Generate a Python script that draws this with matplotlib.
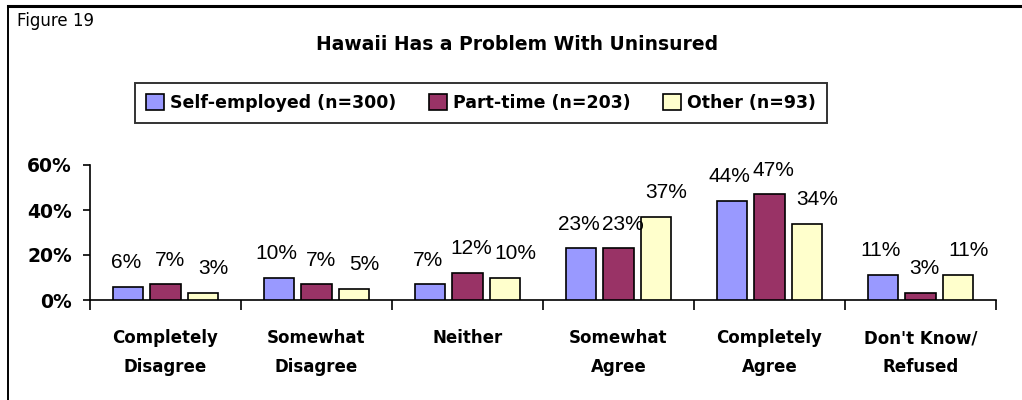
import matplotlib
matplotlib.use("Agg")
import matplotlib.pyplot as plt
from matplotlib.patches import Patch
from matplotlib.lines import Line2D
import numpy as np

categories = ["Completely\nDisagree", "Somewhat\nDisagree", "Neither",
              "Somewhat\nAgree", "Completely\nAgree", "Don't Know/\nRefused"]
series_names = ["Self-employed (n=300)", "Part-time (n=203)", "Other (n=93)"]
self_employed = [6, 10, 7, 23, 44, 11]
part_time = [7, 7, 12, 23, 47, 3]
other = [3, 5, 10, 37, 34, 11]
colors = ["#9999FF", "#993366", "#FFFFCC"]
yticks = [0, 20, 40, 60]
ytick_labels = ["0%", "20%", "40%", "60%"]
title = "Hawaii Has a Problem With Uninsured"
fig_label = "Figure 19"

plt.rcParams['font.family'] = ['DejaVu Sans']

fig = plt.figure(figsize=(10.22, 4.0), dpi=100)
ax = fig.add_axes([90/1022, 0.25, (996-90)/1022, 0.3375])

x = np.arange(len(categories)) + 0.5
offsets = [-0.25, 0.0, 0.25]
label_dx = [-1.4, 2.9, 7.2]  # points, label nudge per series
width = 0.2
for vals, off, col, dx in zip([self_employed, part_time, other], offsets, colors, label_dx):
    bars = ax.bar(x + off, vals, width=width, color=col, edgecolor="black", linewidth=1.2, zorder=3)
    for b, v in zip(bars, vals):
        ax.annotate(f"{v}%", (b.get_x() + b.get_width()/2, v), xytext=(dx, 13.5),
                    textcoords="offset points", ha="center", va="baseline",
                    fontsize=15, family=["Liberation Sans", "DejaVu Sans"],
                    annotation_clip=False, zorder=4)

ax.set_xlim(0, len(categories))
ax.set_ylim(0, 60)
ax.set_yticks(yticks)
ax.set_yticklabels(ytick_labels, fontsize=13.5, fontweight="bold")
ax.set_xticks(np.arange(len(categories) + 1))
ax.set_xticklabels([])
ax.set_xticks(x, minor=True)
ax.set_xticklabels(categories, minor=True, fontsize=12, fontweight="bold", linespacing=1.8)
ax.tick_params(axis="x", which="major", length=7, width=1.2, direction="out")
ax.tick_params(axis="x", which="minor", length=0, pad=21)
ax.tick_params(axis="y", length=5, width=1.2, pad=8)
for s in ["top", "right"]:
    ax.spines[s].set_visible(False)
for s in ["left", "bottom"]:
    ax.spines[s].set_linewidth(1.2)

fig.text(517/1022, 1 - 44/400, title, ha="center", va="center", fontsize=13.5, fontweight="bold")
fig.text(17/1022, 1 - 21/400, fig_label, ha="left", va="center", fontsize=12)

handles = [Patch(facecolor=c, edgecolor="black", linewidth=1.2) for c in colors]
leg = fig.legend(handles, series_names, loc="center", bbox_to_anchor=(481/1022, 1 - 103/400),
                 ncol=3, frameon=True, fancybox=False, edgecolor="black",
                 prop={"size": 12.5, "weight": "bold"}, handlelength=1.0, handleheight=1.0,
                 handletextpad=0.35, columnspacing=1.9, borderpad=0.65, borderaxespad=0)
leg.get_frame().set_linewidth(1.4)

# outer frame (top and left edges visible)
fig.add_artist(Line2D([8/1022, 1.0], [1 - 6/400, 1 - 6/400], color="black", linewidth=2.2, transform=fig.transFigure))
fig.add_artist(Line2D([8/1022, 8/1022], [0.0, 1 - 6/400], color="black", linewidth=1.4, transform=fig.transFigure))

fig.savefig("out.png", dpi=100)
